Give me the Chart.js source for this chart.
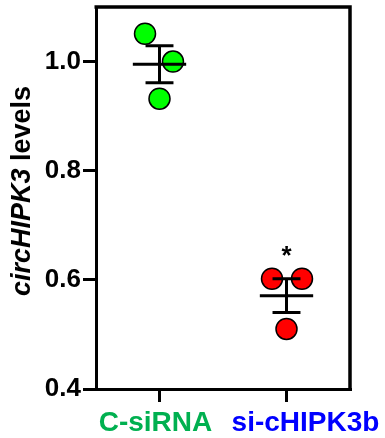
<!DOCTYPE html>
<html>
<head>
<meta charset="utf-8">
<script src="https://cdn.jsdelivr.net/npm/chart.js"></script>
<style>
  body { margin: 0; background: #fff; }
  #wrap { width: 385px; height: 438px; }
</style>
</head>
<body>
<div id="wrap"><canvas id="circChart" width="385" height="438"></canvas></div>
<script>
// 分组与数据
const groups = ['C-siRNA', 'si-cHIPK3b'];
const groupPos = [1, 2];
const labelColors = ['#00b050', '#0000ff'];
const pointColors = ['#00ff00', '#ff0000'];

// 每组三个点：x 为抖动后位置，y 为数值
const ctrlX = [0.886, 1.106, 1.0];
const ctrlY = [1.051, 1.000, 0.932];
const siX = [1.886, 2.122, 2.0];
const siY = [0.602, 0.602, 0.510];

// 均值与 SEM
const means = [0.995, 0.571];
const sems = [0.034, 0.031];
const sigMarks = ['', '*'];

const yTicks = [0.4, 0.6, 0.8, 1.0];

const meanHalf = 0.21;
const capHalf = 0.11;

function toPoints(xs, ys) {
    return xs.map((x, i) => ({ x: x, y: ys[i] }));
}

// 误差线：均值横线 + 上下帽 + 竖线，用 null 断开
function errorBarData() {
    const pts = [];
    groupPos.forEach((g, i) => {
        const m = means[i], s = sems[i];
        pts.push({ x: g - meanHalf, y: m }, { x: g + meanHalf, y: m }, { x: g, y: null });
        pts.push({ x: g - capHalf, y: m + s }, { x: g + capHalf, y: m + s }, { x: g, y: null });
        pts.push({ x: g - capHalf, y: m - s }, { x: g + capHalf, y: m - s }, { x: g, y: null });
        pts.push({ x: g, y: m - s }, { x: g, y: m + s }, { x: g, y: null });
    });
    return pts;
}

// 上边框和右边框
const frame = {
    id: 'frame',
    afterDraw(chart) {
        const a = chart.chartArea, c = chart.ctx;
        c.save();
        c.strokeStyle = '#000';
        c.lineWidth = 3.5;
        c.beginPath();
        c.moveTo(a.left - 1.5, a.top);
        c.lineTo(a.right, a.top);
        c.lineTo(a.right, a.bottom + 1.5);
        c.stroke();
        c.restore();
    }
};

// y 轴标题（circHIPK3 斜体）、x 轴分组标签、显著性星号
const extras = {
    id: 'extras',
    afterDraw(chart) {
        const c = chart.ctx;
        const xs = chart.scales.x, ys = chart.scales.y;
        const italicFont = 'italic bold 27px "Liberation Sans", Arial, sans-serif';
        const normalFont = 'bold 27px "Liberation Sans", Arial, sans-serif';
        c.save();
        c.translate(23, 191);
        c.rotate(-Math.PI / 2);
        c.textBaseline = 'middle';
        c.fillStyle = '#000';
        c.font = italicFont;
        const w1 = c.measureText('circHIPK3').width;
        c.font = normalFont;
        const w2 = c.measureText(' levels').width;
        let x0 = -(w1 + w2) / 2;
        c.font = italicFont;
        c.textAlign = 'left';
        c.fillText('circHIPK3', x0, 0);
        c.font = normalFont;
        c.fillText(' levels', x0 + w1, 0);
        c.restore();

        // 分组标签（原图中不完全居中于刻度）
        const labelShift = [-4, 19];
        c.save();
        c.font = 'bold 28px "Liberation Sans", Arial, sans-serif';
        c.textAlign = 'center';
        c.textBaseline = 'alphabetic';
        groups.forEach((g, i) => {
            c.fillStyle = labelColors[i];
            c.fillText(g, xs.getPixelForValue(groupPos[i]) + labelShift[i], 431);
        });
        c.restore();

        c.save();
        c.font = 'bold 26px "Liberation Sans", Arial, sans-serif';
        c.textAlign = 'center';
        c.textBaseline = 'middle';
        c.fillStyle = '#000';
        sigMarks.forEach((m, i) => {
            if (!m) return;
            const px = xs.getPixelForValue(groupPos[i]);
            const py = ys.getPixelForValue(means[i] + sems[i]) - 22;
            c.fillText(m, px, py);
        });
        c.restore();
    }
};

const ctx = document.getElementById('circChart').getContext('2d');
new Chart(ctx, {
    type: 'scatter',
    data: {
        datasets: [
            {
                label: groups[0],
                data: toPoints(ctrlX, ctrlY),
                backgroundColor: pointColors[0],
                borderColor: '#000',
                borderWidth: 1.5,
                pointRadius: 10.5,
                order: 2
            },
            {
                label: groups[1],
                data: toPoints(siX, siY),
                backgroundColor: pointColors[1],
                borderColor: '#000',
                borderWidth: 1.5,
                pointRadius: 10.5,
                order: 2
            },
            {
                label: 'errors',
                type: 'line',
                data: errorBarData(),
                borderColor: '#000',
                borderWidth: 3,
                pointRadius: 0,
                spanGaps: false,
                fill: false,
                borderCapStyle: 'butt',
                order: 1
            }
        ]
    },
    options: {
        responsive: false,
        animation: false,
        layout: { autoPadding: false, padding: { left: 0, top: 7, right: 35, bottom: 0 } },
        plugins: {
            legend: { display: false },
            tooltip: { enabled: false }
        },
        scales: {
            x: {
                type: 'linear',
                min: 0.5,
                max: 2.5,
                afterBuildTicks: scale => { scale.ticks = groupPos.map(v => ({ value: v })); },
                afterFit: scale => {
                    scale.height = 49;
                    scale.paddingLeft = 0;
                    scale.paddingRight = 0;
                },
                grid: { drawOnChartArea: false, tickLength: 13, lineWidth: 3, color: '#000' },
                border: { display: true, width: 3, color: '#000' },
                ticks: {
                    display: false
                }
            },
            y: {
                min: 0.4,
                max: 1.1,
                afterBuildTicks: scale => { scale.ticks = yTicks.map(v => ({ value: v })); },
                afterFit: scale => {
                    scale.width = 96;
                    scale.paddingTop = 0;
                    scale.paddingBottom = 0;
                },
                grid: { drawOnChartArea: false, tickLength: 13, lineWidth: 3, color: '#000' },
                border: { display: true, width: 3, color: '#000' },
                ticks: {
                    padding: 2,
                    color: '#000',
                    font: { family: '"Liberation Sans", Arial, sans-serif', size: 26, weight: 'bold' },
                    callback: v => v.toFixed(1)
                }
            }
        }
    },
    plugins: [frame, extras]
});
</script>
</body>
</html>
